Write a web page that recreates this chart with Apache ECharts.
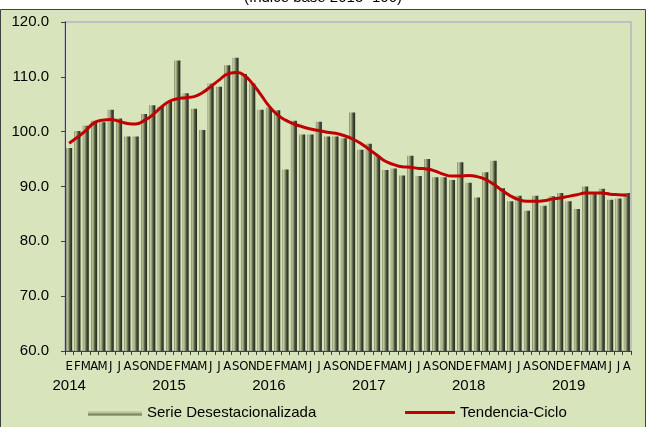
<!DOCTYPE html>
<html>
<head>
<meta charset="utf-8">
<script src="https://cdn.jsdelivr.net/npm/echarts@6/dist/echarts.min.js"></script>
<style>
html,body{margin:0;padding:0;background:#fff;}
#c{width:646px;height:427px;}
</style>
</head>
<body>
<div id="c"></div>
<script>
// ---- data ----
const years = ['2014', '2015', '2016', '2017', '2018', '2019'];
const monthLetters = ['E', 'F', 'M', 'A', 'M', 'J', 'J', 'A', 'S', 'O', 'N', 'D'];
const monthsLastYear = 8;

const serieDesestacionalizada = [
  97.0, 100.1, 101.1, 102.0, 101.7, 104.0, 102.4, 99.1, 99.1, 103.2, 104.8, 104.6,
  105.5, 113.0, 107.0, 104.2, 100.3, 108.8, 108.2, 112.1, 113.5, 110.5, 108.8, 104.0,
  104.4, 103.9, 93.1, 102.0, 99.5, 99.5, 101.8, 99.1, 99.1, 98.8, 103.5, 96.7,
  97.8, 95.6, 93.0, 93.3, 92.0, 95.6, 91.9, 95.0, 91.7, 91.7, 91.2, 94.4,
  90.7, 88.0, 92.6, 94.7, 89.7, 87.3, 88.3, 85.6, 88.3, 86.5, 88.2, 88.8,
  87.3, 85.9, 90.0, 89.0, 89.6, 87.6, 87.8, 88.8
];

const tendenciaCiclo = [
  97.9, 99.0, 100.2, 101.6, 102.1, 102.2, 101.9, 101.5, 101.4, 102.0, 103.0, 104.4,
  105.5, 106.0, 106.2, 106.4, 107.1, 108.2, 109.4, 110.5, 110.8, 110.3, 108.8, 106.8,
  104.7, 103.1, 102.1, 101.4, 100.9, 100.5, 100.2, 99.9, 99.7, 99.3, 98.7, 97.9,
  96.8, 95.7, 94.6, 94.0, 93.6, 93.5, 93.3, 93.2, 92.8, 92.2, 91.9, 91.9,
  92.0, 91.8, 91.3, 90.4, 89.3, 88.3, 87.6, 87.3, 87.3, 87.4, 87.7, 87.9,
  88.2, 88.5, 88.8, 88.8, 88.8, 88.6, 88.5, 88.4
];

const yTicks = ['60.0', '70.0', '80.0', '90.0', '100.0', '110.0', '120.0'];

// ---- build categories ----
const categories = [];
years.forEach((y, yi) => {
  const n = yi === years.length - 1 ? monthsLastYear : 12;
  for (let m = 0; m < n; m++) categories.push(y + '|' + m);
});

const bg = '#D8E4BC';
const chart = echarts.init(document.getElementById('c'));
const barGrad = new echarts.graphic.LinearGradient(0, 0, 1, 0, [
  { offset: 0, color: '#5f6947' },
  { offset: 0.15, color: '#c2cba3' },
  { offset: 0.4, color: '#929d72' },
  { offset: 0.62, color: '#4f5840' },
  { offset: 0.85, color: '#30362a' },
  { offset: 1, color: '#262a1e' }
]);
const legendGrad = new echarts.graphic.LinearGradient(0, 0, 0, 1, [
  { offset: 0, color: '#e4ecd0' },
  { offset: 0.5, color: '#b9c498' },
  { offset: 1, color: '#5f6947' }
]);

chart.setOption({
  backgroundColor: '#ffffff',
  animation: false,
  textStyle: { fontFamily: 'Liberation Sans, Arial, sans-serif' },
  graphic: [
    {
      type: 'rect', z: -10, silent: true,
      shape: { x: 0.5, y: 9.5, width: 645, height: 420 },
      style: { fill: bg, stroke: '#404040', lineWidth: 1 }
    },
    {
      type: 'text', z: 10, silent: true,
      left: 'center', top: -10,
      style: { text: '(índice base 2015=100)', font: '15px Liberation Sans, Arial, sans-serif', fill: '#000' }
    }
  ],
  grid: {
    left: 65, right: 15, top: 22, bottom: 76,
    show: true, borderColor: '#BFBFBF', borderWidth: 2, backgroundColor: 'transparent'
  },
  legend: [
    {
      left: 83, top: 400, itemWidth: 54, itemHeight: 6, itemGap: 10,
      textStyle: { fontSize: 15, color: '#000', fontFamily: 'Liberation Sans, Arial, sans-serif' },
      data: [{ name: 'Serie Desestacionalizada', icon: 'rect', itemStyle: { color: legendGrad } }]
    },
    {
      left: 400, top: 400, itemWidth: 50, itemHeight: 3, itemGap: 10,
      textStyle: { fontSize: 15, color: '#000', fontFamily: 'Liberation Sans, Arial, sans-serif' },
      data: [{ name: 'Tendencia-Ciclo', icon: 'rect', itemStyle: { color: '#C00000' } }]
    }
  ],
  xAxis: {
    type: 'category',
    data: categories,
    axisLine: { lineStyle: { color: '#404040', width: 1 } },
    axisTick: { show: true, interval: 0, length: 4, lineStyle: { color: '#404040' } },
    axisLabel: {
      interval: 0, margin: 7, color: '#000',
      fontSize: 13, lineHeight: 18,
      fontFamily: 'Liberation Sans Narrow, DejaVu Sans Condensed, Liberation Sans, Arial, sans-serif',
      formatter: (v) => {
        const [y, m] = v.split('|');
        const mi = +m;
        return mi === 0 ? monthLetters[mi] + '\n{y|' + y + '}' : monthLetters[mi];
      },
      rich: { y: { fontSize: 15, lineHeight: 19, fontFamily: 'Liberation Sans, Arial, sans-serif', color: '#000' } }
    },
    splitLine: { show: false }
  },
  yAxis: {
    type: 'value', min: 60, max: 120, interval: 10,
    axisLine: { show: true, lineStyle: { color: '#404040', width: 1 } },
    axisTick: { show: true, length: 4, lineStyle: { color: '#404040' } },
    axisLabel: {
      margin: 16, color: '#000', fontSize: 15,
      formatter: (v) => yTicks[Math.round((v - 60) / 10)]
    },
    splitLine: { show: false }
  },
  series: [
    {
      name: 'Serie Desestacionalizada',
      type: 'bar',
      data: serieDesestacionalizada,
      barCategoryGap: '28%',
      itemStyle: { color: barGrad }
    },
    {
      name: 'Tendencia-Ciclo',
      type: 'line',
      data: tendenciaCiclo,
      smooth: true,
      symbol: 'none',
      showSymbol: false,
      z: 5,
      lineStyle: { color: '#C00000', width: 3 },
      itemStyle: { color: '#C00000' }
    }
  ]
});
</script>
</body>
</html>
